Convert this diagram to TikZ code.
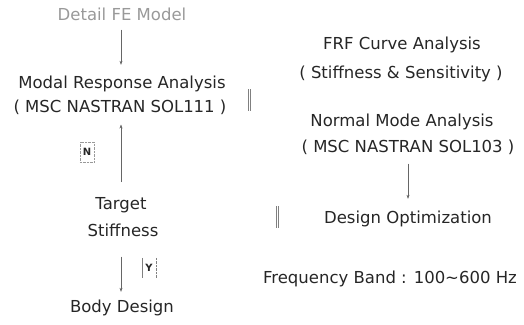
\documentclass[tikz,border=0pt]{standalone}
\usepackage{fontspec}
\setmainfont{DejaVu Sans}
\usetikzlibrary{arrows.meta}
\begin{document}
\begin{tikzpicture}[x=1pt, y=-1pt, every node/.style={font=\fontsize{16.5}{18}\selectfont, inner sep=1pt, text=black!85}]
\tikzset{flowarrow/.style={draw=black!60, thin, -{Stealth[length=4pt, width=3pt]}},
         tagbox/.style={font=\fontsize{10}{11}\selectfont\bfseries, inner sep=3pt, minimum height=20pt},
         gapbar/.style={draw=black!50, thin}}
\useasboundingbox (0,0) rectangle (524,324);
% left column
\node[text=black!40] (fe) at (122,14) {Detail FE Model};
\node (modal) at (122,84) {Modal Response Analysis};
\node (sol111) at (120,107) {( MSC NASTRAN SOL111 )};
\node (target) at (121,205) {Target};
\node (stiff) at (123,230) {Stiffness};
\node (body) at (122,308) {Body Design};
\coordinate (axis) at (121,0);
\draw[flowarrow, shorten >=10pt, shorten <=8pt] (fe.south -| axis) -- (modal.north -| axis);
\draw[flowarrow, shorten >=9pt, shorten <=14pt] (target.north -| axis) -- (sol111.south -| axis);
\draw[flowarrow, shorten >=7pt, shorten <=19pt] (stiff.south -| axis) -- (body.north -| axis);
\node[tagbox, draw=black!40, densely dotted] (tagn) at (87,152) {N};
\node[tagbox] (tagy) at (149,268) {Y};
\draw[gapbar] (tagy.north west) -- (tagy.south west);
\draw[gapbar, densely dotted] (tagy.north east) -- (tagy.south east);
% right column
\node (frf) at (402,45) {FRF Curve Analysis};
\node (sens) at (401,74) {( Stiffness \& Sensitivity )};
\node (normal) at (402,122) {Normal Mode Analysis};
\node (sol103) at (408,147) {( MSC NASTRAN SOL103 )};
\node (optim) at (408,219) {Design Optimization};
\node (band) at (390,279) {Frequency Band : 100\char"007E 600 Hz};
\draw[flowarrow, shorten >=11pt, shorten <=8pt] (sol103.south -| optim) -- (optim.north);
% leftover box edges
\foreach \bx/\by/\bh in {248/89/22, 276/206/22} {
  \draw[gapbar] (\bx,\by) -- ++(0,\bh);
  \draw[gapbar] (\bx+2,\by) -- ++(0,\bh);
}
\end{tikzpicture}
\end{document}
